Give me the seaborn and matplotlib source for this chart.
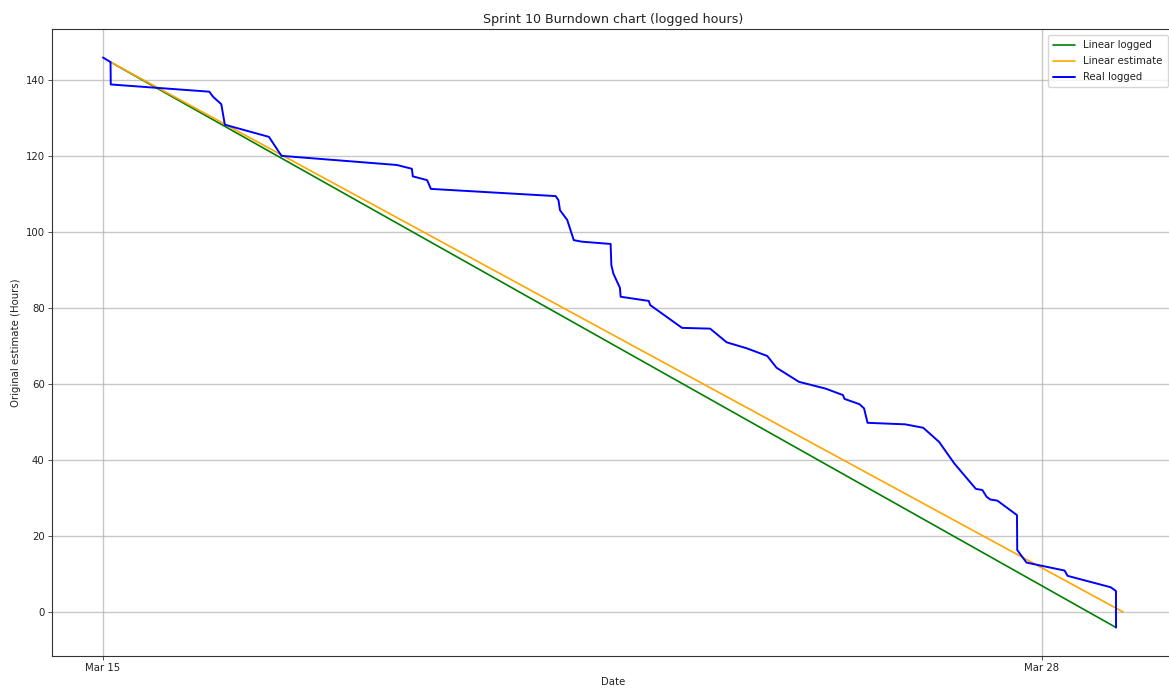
import matplotlib
matplotlib.use("Agg")
import matplotlib.pyplot as plt
import matplotlib.dates as mdates
import seaborn as sns
import pandas as pd

real_times = [
    "2024-03-15 00:00", "2024-03-15 02:30", "2024-03-15 02:35", "2024-03-16 11:20",
    "2024-03-16 12:40", "2024-03-16 15:20", "2024-03-16 16:30", "2024-03-17 07:10",
    "2024-03-17 11:20", "2024-03-19 01:40", "2024-03-19 06:40", "2024-03-19 07:00",
    "2024-03-19 11:45", "2024-03-19 13:00", "2024-03-21 06:30", "2024-03-21 07:25",
    "2024-03-21 07:55", "2024-03-21 10:20", "2024-03-21 12:30", "2024-03-21 15:10",
    "2024-03-22 00:45", "2024-03-22 01:00", "2024-03-22 01:40", "2024-03-22 03:10",
    "2024-03-22 03:50", "2024-03-22 04:05", "2024-03-22 13:25", "2024-03-22 13:55",
    "2024-03-23 00:30", "2024-03-23 09:50", "2024-03-23 15:20", "2024-03-23 22:05",
    "2024-03-24 04:50", "2024-03-24 07:55", "2024-03-24 15:20", "2024-03-25 00:15",
    "2024-03-25 06:00", "2024-03-25 06:30", "2024-03-25 11:30", "2024-03-25 13:00",
    "2024-03-25 14:10", "2024-03-26 02:40", "2024-03-26 08:40", "2024-03-26 13:55",
    "2024-03-26 19:00", "2024-03-27 02:10", "2024-03-27 04:20", "2024-03-27 05:45",
    "2024-03-27 07:00", "2024-03-27 09:20", "2024-03-27 15:50", "2024-03-27 15:55",
    "2024-03-27 19:00", "2024-03-27 23:45", "2024-03-28 07:40", "2024-03-28 08:40",
    "2024-03-28 23:00", "2024-03-29 00:45", "2024-03-29 00:46",
]
real_values = [
    146.0, 144.8, 138.9, 137.0,
    135.6, 133.7, 128.3, 125.1,
    120.1, 117.7, 116.7, 114.7,
    113.7, 111.4, 109.5, 108.4,
    105.8, 103.2, 97.9, 97.5,
    96.9, 91.3, 89.1, 86.5,
    85.4, 83.0, 81.9, 80.8,
    74.8, 74.6, 71.0, 69.4,
    67.4, 64.3, 60.6, 58.8,
    57.1, 56.1, 54.7, 53.6,
    49.8, 49.4, 48.5, 44.8,
    39.1, 32.4, 32.1, 30.3,
    29.6, 29.3, 25.5, 16.3,
    13.0, 12.2, 10.9, 9.5,
    6.5, 5.5, -4.1,
]
logged_times = ["2024-03-15 02:30", "2024-03-29 00:46"]
logged_values = [144.8, -4.1]
estimate_times = ["2024-03-15 02:30", "2024-03-29 03:05"]
estimate_values = [144.8, 0.0]
tick_dates = ["2024-03-15", "2024-03-28"]

sns.set_theme(style="ticks")
plt.rcParams["font.family"] = ["DejaVu Sans"]
plt.rcParams.update({"axes.edgecolor": "#333333", "axes.linewidth": 0.8,
                     "xtick.color": "#333333", "ytick.color": "#333333",
                     "xtick.labelcolor": "#222222", "ytick.labelcolor": "#222222",
                     "xtick.major.size": 2.6, "ytick.major.size": 2.6,
                     "xtick.major.width": 0.6, "ytick.major.width": 0.6,
                     "xtick.major.pad": 2.6, "ytick.major.pad": 2.6,
                     "axes.labelcolor": "#222222", "text.color": "#222222",
                     "font.size": 7.3, "axes.labelsize": 7.3, "axes.titlesize": 9.1,
                     "xtick.labelsize": 7.3, "ytick.labelsize": 7.3, "legend.fontsize": 7.3})

fig = plt.figure(figsize=(11.69, 6.89), dpi=100)
ax = fig.add_axes([52 / 1169, 1 - 656 / 689, (1174 - 52) / 1169, (656 - 29) / 689])

df_log = pd.DataFrame({"t": pd.to_datetime(logged_times), "v": logged_values})
df_est = pd.DataFrame({"t": pd.to_datetime(estimate_times), "v": estimate_values})
df_real = pd.DataFrame({"t": pd.to_datetime(real_times), "v": real_values})

sns.lineplot(data=df_log, x="t", y="v", ax=ax, color="green", linewidth=1.2,
             label="Linear logged", estimator=None, sort=False)
sns.lineplot(data=df_est, x="t", y="v", ax=ax, color="orange", linewidth=1.2,
             label="Linear estimate", estimator=None, sort=False)
sns.lineplot(data=df_real, x="t", y="v", ax=ax, color="blue", linewidth=1.4,
             label="Real logged", estimator=None, sort=False)

ax.set_xticks(pd.to_datetime(tick_dates))
ax.xaxis.set_major_formatter(mdates.DateFormatter("%b %d"))
ax.grid(True, color="#b0b0b0", linewidth=1.0, alpha=0.7)
ax.set_axisbelow(True)
ax.set_title("Sprint 10 Burndown chart (logged hours)", pad=4.5)
ax.set_xlabel("Date", labelpad=3)
ax.set_ylabel("Original estimate (Hours)", labelpad=3)
ax.legend(loc="upper right", frameon=True, fancybox=True, framealpha=0.8,
          edgecolor="#cccccc", borderaxespad=0.6, labelspacing=0.6,
          handlelength=2.2, borderpad=0.5)
for s in ax.spines.values():
    s.set_visible(True)

fig.savefig("out.png", dpi=100)
